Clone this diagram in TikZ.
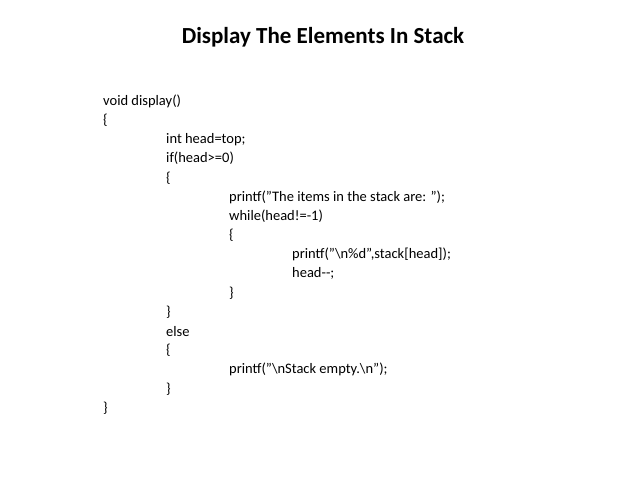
\documentclass[tikz,border=0pt]{standalone}
\usepackage{fontspec}
\setmainfont{Carlito}
\begin{document}
\begin{tikzpicture}[x=1pt,y=-1pt,code/.style={anchor=west,inner sep=0pt,font=\fontsize{14.5}{17}\selectfont}]
\useasboundingbox (0,0) rectangle (638,478);
\node[font=\fontsize{23}{27}\bfseries] (title) at (323,37) {Display The Elements In Stack};
\def\L#1#2#3{\node[code] (l#1) at (#2,{101+19.2*#1}) {#3};}
\L{0}{103}{void display()}
\L{1}{103}{\{}
\L{2}{166}{int head=top;}
\L{3}{166}{if(head>=0)}
\L{4}{166}{\{}
\L{5}{229}{printf("The items in the stack are: ");}
\L{6}{229}{while(head!=-1)}
\L{7}{229}{\{}
\L{8}{292}{printf("\textbackslash n\%d",stack[head]);}
\L{9}{292}{head-{}-;}
\L{10}{229}{\}}
\L{11}{166}{\}}
\L{12}{166}{else}
\L{13}{166}{\{}
\L{14}{229}{printf("\textbackslash nStack empty.\textbackslash n");}
\L{15}{166}{\}}
\L{16}{103}{\}}
\end{tikzpicture}
\end{document}
